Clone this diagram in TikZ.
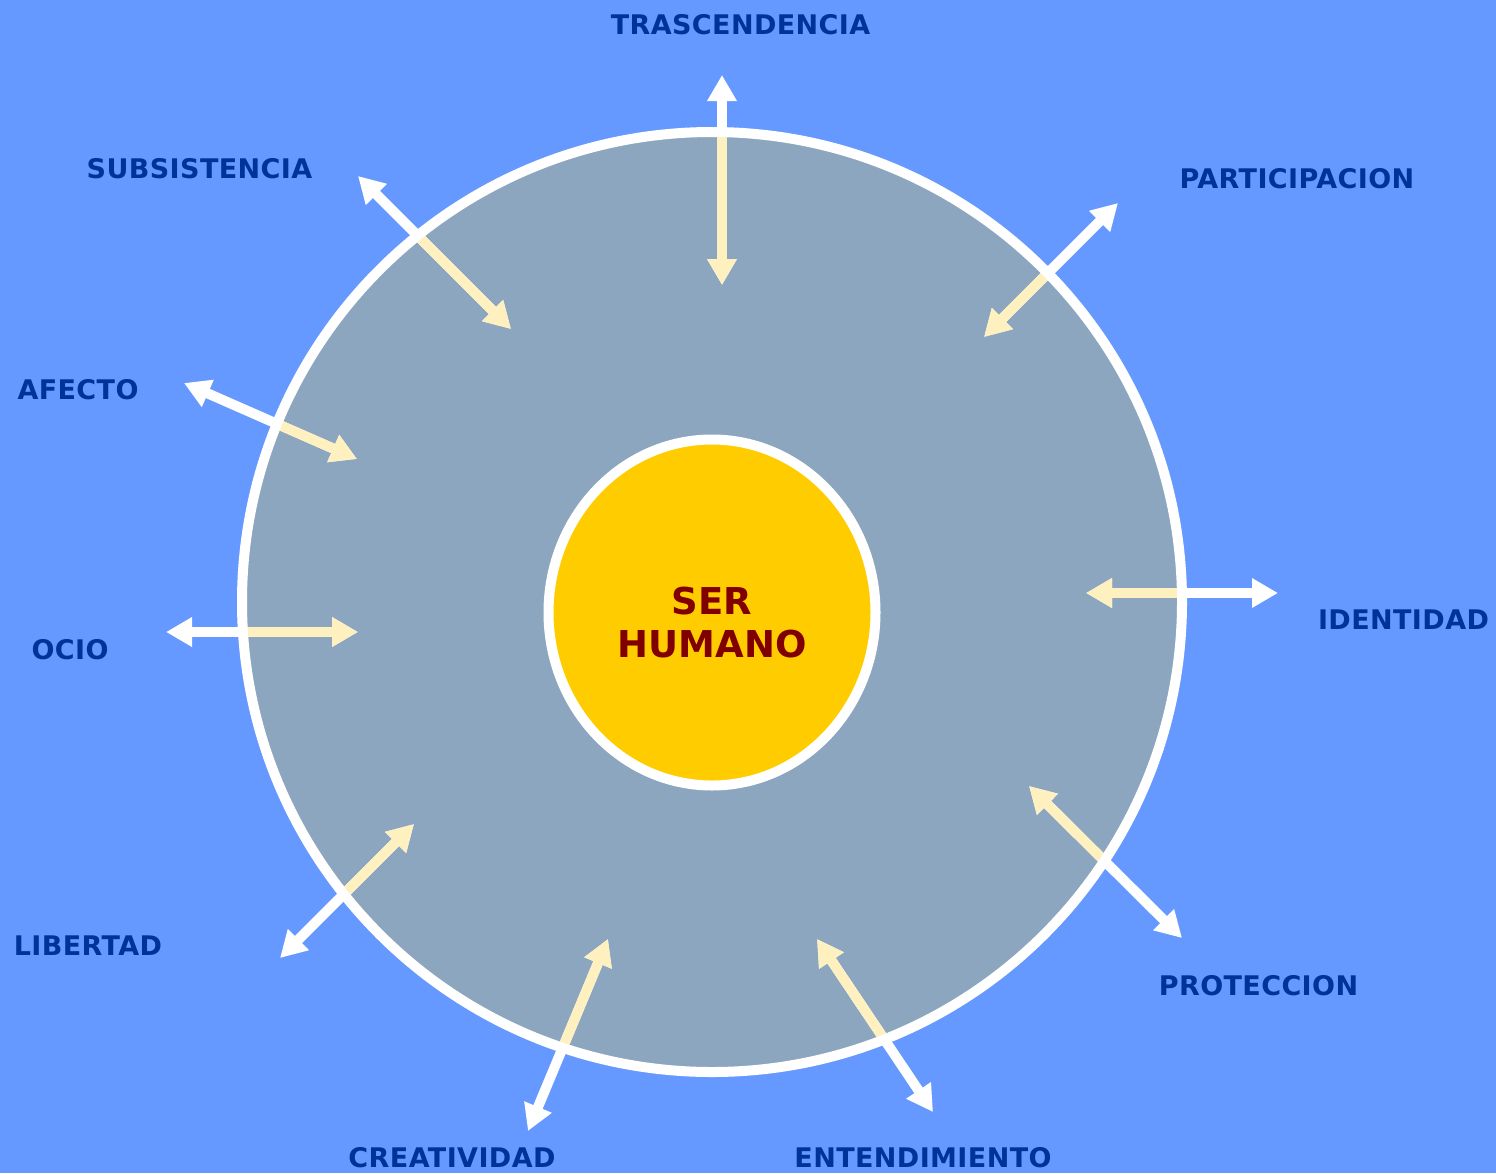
\documentclass[tikz,border=0pt]{standalone}
\usepackage{fontspec}
\setmainfont{DejaVu Sans}
\newfontfamily\labfont[LetterSpace=1.5]{DejaVu Sans}
\usetikzlibrary{arrows.meta,shapes.geometric}
\definecolor{bgblue}{HTML}{6699FF}
\definecolor{ringfill}{HTML}{8CA6BF}
\definecolor{cream}{HTML}{FFF0C0}
\definecolor{labblue}{HTML}{003399}
\definecolor{corered}{HTML}{800000}
\definecolor{coreyellow}{HTML}{FFCC00}
\tikzset{
  labtext/.style={text=labblue, inner sep=0pt, font=\labfont\bfseries\fontsize{27}{31}\selectfont},
  whitearrow/.style={draw=white, line width=10pt, {Triangle[length=26pt,width=28pt]}-{Triangle[length=26pt,width=28pt]}},
  creamarrow/.style={draw=cream, line width=10pt, -{Triangle[length=26pt,width=28pt]}},
}
\begin{document}
\begin{tikzpicture}[x=1pt,y=-1pt]
\fill[bgblue] (0,0) rectangle (1496,1173);
\useasboundingbox (0,0) rectangle (1496,1173);
% ring
\node[circle, draw=white, line width=10pt, fill=ringfill, minimum size=940pt, inner sep=0pt] (ring) at (712,602) {};
% arrow end points (o = outer, i = inner)
\coordinate (a1o) at (722,75);   \coordinate (a1i) at (722,285);
\coordinate (a2o) at (358,176);  \coordinate (a2i) at (511,329);
\coordinate (a3o) at (1118,203); \coordinate (a3i) at (984,337);
\coordinate (a4o) at (184,383);  \coordinate (a4i) at (357,459);
\coordinate (a5o) at (166,632);  \coordinate (a5i) at (358,632);
\coordinate (a6o) at (1278,593); \coordinate (a6i) at (1086,593);
\coordinate (a7o) at (280,958);  \coordinate (a7i) at (414,824);
\coordinate (a8o) at (1182,938); \coordinate (a8i) at (1029,786);
\coordinate (a9o) at (528,1131); \coordinate (a9i) at (608,939);
\coordinate (a10o) at (933,1112); \coordinate (a10i) at (817,939);
\foreach \k in {1,...,10}{\draw[whitearrow] (a\k o) -- (a\k i);}
\begin{scope}
\clip (712,602) circle[radius=465pt];
\foreach \k in {1,...,10}{\draw[creamarrow] (a\k o) -- (a\k i);}
\end{scope}
% core
\node[ellipse, draw=white, line width=10pt, fill=coreyellow, minimum width=327pt, minimum height=346pt, inner sep=0pt] (core) at (712,612.5) {};
\node[text=corered, align=center, inner sep=0pt, font=\bfseries\fontsize{37}{43}\selectfont] (corelabel) at (712,623) {SER\\HUMANO};
% labels
\node[labtext] (trascendencia) at (740.5,24.5) {TRASCENDENCIA};
\node[labtext] (subsistencia) at (199.5,168.5) {SUBSISTENCIA};
\node[labtext] (participacion) at (1297,179) {PARTICIPACION};
\node[labtext] (afecto) at (78,390) {AFECTO};
\node[labtext] (ocio) at (70,650) {OCIO};
\node[labtext] (identidad) at (1403.5,620) {IDENTIDAD};
\node[labtext] (libertad) at (88,946) {LIBERTAD};
\node[labtext] (proteccion) at (1258.5,986) {PROTECCION};
\node[labtext] (creatividad) at (452,1158) {CREATIVIDAD};
\node[labtext] (entendimiento) at (923,1158) {ENTENDIMIENTO};
\end{tikzpicture}
\end{document}
